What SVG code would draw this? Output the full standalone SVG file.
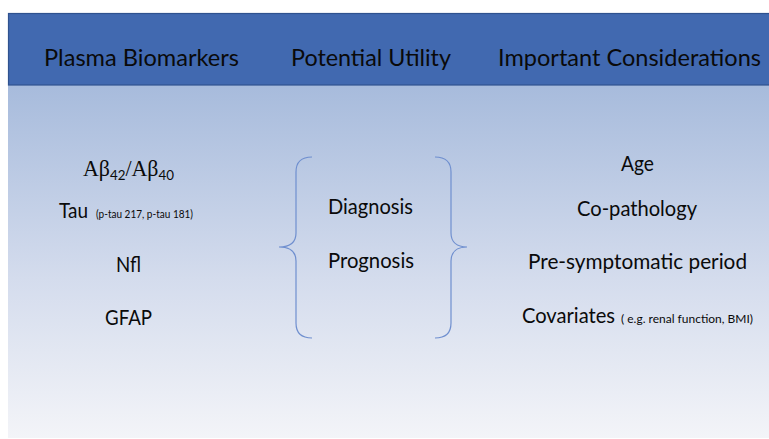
<svg xmlns="http://www.w3.org/2000/svg" width="769" height="439" viewBox="0 0 769 439">
  <defs>
    <linearGradient id="panelFill" x1="0" y1="0" x2="0" y2="1">
      <stop offset="0" stop-color="#A7BBDC"/>
      <stop offset="0.55" stop-color="#D4DCED"/>
      <stop offset="1" stop-color="#F3F4F8"/>
    </linearGradient>
    <style>
      .t { font-family: Lato, "Open Sans", "Liberation Sans", sans-serif; fill: #0A0A0A; }
      .hdr { font-size: 23px; }
      .big { font-size: 21px; }
      .small { font-size: 11px; }
      .note { font-size: 12px; }
      .greek { font-family: "Liberation Serif", "DejaVu Serif", serif; font-size: 23px; fill: #0A0A0A; }
      .brace { fill: none; stroke: #6F8FCF; stroke-width: 1.2; }
    </style>
  </defs>

  <rect x="0" y="0" width="769" height="439" fill="#FFFFFF"/>

  <!-- body panel -->
  <rect x="8" y="85" width="761" height="353" fill="url(#panelFill)"/>

  <!-- header band -->
  <g id="header">
    <rect x="8.5" y="13.5" width="770" height="71.5" fill="#4169B0" stroke="#2F528F" stroke-width="1.2"/>
    <text class="t hdr" x="44" y="66" textLength="195" lengthAdjust="spacingAndGlyphs">Plasma Biomarkers</text>
    <text class="t hdr" x="291" y="66" textLength="160" lengthAdjust="spacingAndGlyphs">Potential Utility</text>
    <text class="t hdr" x="498" y="66" textLength="263" lengthAdjust="spacingAndGlyphs">Important Considerations</text>
  </g>

  <!-- biomarkers column -->
  <g id="biomarkers">
    <text x="83" y="176" textLength="91" lengthAdjust="spacingAndGlyphs"><tspan class="greek">Aβ</tspan><tspan class="t" font-size="14" dy="4">42</tspan><tspan class="greek" dy="-4">/Aβ</tspan><tspan class="t" font-size="14" dy="4">40</tspan></text>
    <text class="t big" x="59" y="218" textLength="29" lengthAdjust="spacingAndGlyphs">Tau</text>
    <text class="t small" x="96" y="218" textLength="97" lengthAdjust="spacingAndGlyphs">(p-tau 217, p-tau 181)</text>
    <text class="t big" x="116" y="272" textLength="25" lengthAdjust="spacingAndGlyphs">Nfl</text>
    <text class="t big" x="105" y="325" textLength="47" lengthAdjust="spacingAndGlyphs">GFAP</text>
  </g>

  <!-- utility column -->
  <g id="utility">
    <text class="t big" x="328" y="214" textLength="85" lengthAdjust="spacingAndGlyphs">Diagnosis</text>
    <text class="t big" x="328" y="268" textLength="86" lengthAdjust="spacingAndGlyphs">Prognosis</text>
  </g>

  <!-- considerations column -->
  <g id="considerations">
    <text class="t big" x="621" y="171" textLength="33" lengthAdjust="spacingAndGlyphs">Age</text>
    <text class="t big" x="577" y="216" textLength="120" lengthAdjust="spacingAndGlyphs">Co-pathology</text>
    <text class="t big" x="528" y="269" textLength="219" lengthAdjust="spacingAndGlyphs">Pre-symptomatic period</text>
    <text class="t big" x="522" y="323" textLength="93" lengthAdjust="spacingAndGlyphs">Covariates</text>
    <text class="t note" x="621" y="323" textLength="132" lengthAdjust="spacingAndGlyphs">( e.g. renal function, BMI)</text>
  </g>

  <!-- braces around the utility column -->
  <g id="connectors">
    <path class="brace" d="M312,157 C302,157 296,162 296,172 L296,233 C296,242 290,247 279,247 C290,247 296,252 296,261 L296,323 C296,333 302,338 312,338"/>
    <path class="brace" d="M435,157 C445,157 451,162 451,172 L451,233 C451,242 457,247 467,247 C457,247 451,252 451,261 L451,323 C451,333 445,338 435,338"/>
  </g>
</svg>
